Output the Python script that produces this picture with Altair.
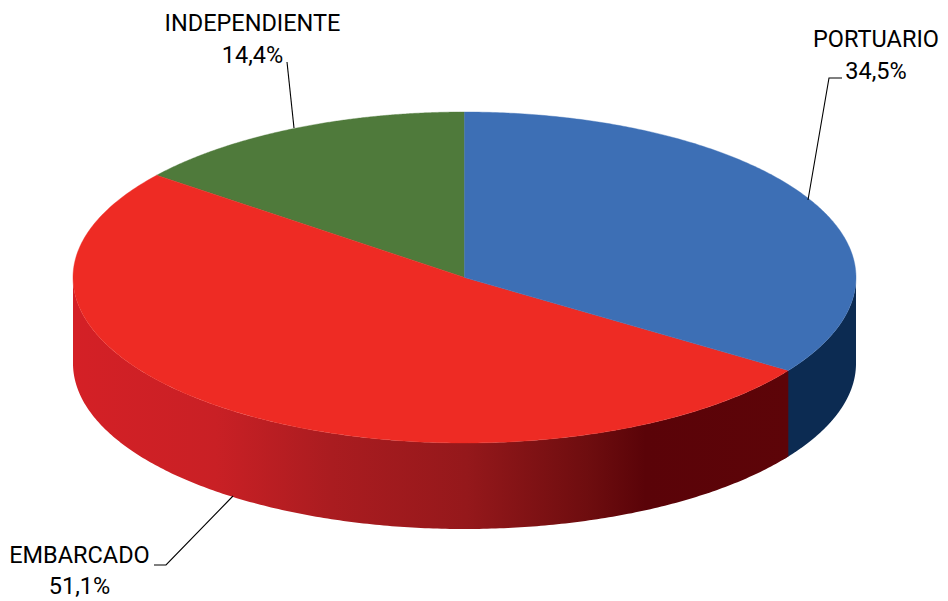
import numpy as np
import pandas as pd
import altair as alt

# Data
categories = ["PORTUARIO", "EMBARCADO", "INDEPENDIENTE"]
shares = [34.5, 51.1, 14.4]
share_labels = ["34,5%", "51,1%", "14,4%"]
top_colors = ["#3d6fb5", "#ee2b24", "#4f7a3b"]

# Label anchors and leader lines, in reference picture coordinates
label_x = [876, 79.5, 252.5]
name_y = [47, 563, 31]
value_y = [79, 594, 63]
leader_x = [[808, 829, 842], [233, 166, 154], [294, 287, 287]]
leader_y = [[200, 78, 78], [496, 565, 565], [128, 62, 62]]

# Pie geometry
CX, CY, RX, RY, DEPTH = 464.5, 277.5, 391.5, 165.5, 86

X = alt.X("x:Q", scale=alt.Scale(domain=[8, 940], nice=False, zero=False), axis=None)
Y = alt.Y("y:Q", scale=alt.Scale(domain=[600, 8], nice=False, zero=False), axis=None)


def rim(a0, a1, n=240):
    """Points on the top ellipse; angles run clockwise from 12 o'clock in share units."""
    t = np.linspace(a0, a1, n) / 100 * 2 * np.pi
    return CX + RX * np.sin(t), CY - RY * np.cos(t)


def sector(a0, a1, color):
    xs, ys = rim(a0, a1)
    xs = np.r_[CX, xs, CX]
    ys = np.r_[CY, ys, CY]
    df = pd.DataFrame({"x": xs, "y": ys, "i": np.arange(len(xs))})
    return alt.Chart(df).mark_line(fill=color, stroke=color, strokeWidth=0.4, clip=False).encode(
        x=X, y=Y, order=alt.Order("i:Q")
    )


def wall(a0, a1, color):
    xs, ys = rim(a0, a1)
    df = pd.DataFrame({"x": xs, "y": ys, "y2": ys + DEPTH}).sort_values("x")
    return alt.Chart(df).mark_area(color=color, line=False).encode(
        x=X, y=Y, y2="y2:Q"
    )


bounds = np.cumsum([0] + shares)

red_gradient = alt.Gradient(
    gradient="linear", x1=0, x2=1, y1=0, y2=0,
    stops=[
        alt.GradientStop(offset=0.0, color="#d42026"),
        alt.GradientStop(offset=0.2, color="#c92025"),
        alt.GradientStop(offset=0.36, color="#aa1c20"),
        alt.GradientStop(offset=0.55, color="#95181b"),
        alt.GradientStop(offset=0.72, color="#6e0d0f"),
        alt.GradientStop(offset=0.8, color="#5a0308"),
        alt.GradientStop(offset=1.0, color="#5d0408"),
    ],
)

layers = [
    wall(bounds[0] + 25, bounds[1] + 0.3, "#0c2b52"),
    wall(bounds[1], 75, red_gradient),
]
for i in [2, 1, 0]:
    layers.append(sector(bounds[i], bounds[i + 1], top_colors[i]))

for xs, ys in zip(leader_x, leader_y):
    df = pd.DataFrame({"x": xs, "y": ys, "i": range(len(xs))})
    layers.append(
        alt.Chart(df).mark_line(color="#000000", strokeWidth=1.1).encode(
            x=X, y=Y, order=alt.Order("i:Q")
        )
    )

labels = pd.DataFrame(
    {
        "x": label_x * 2,
        "y": name_y + value_y,
        "t": categories + share_labels,
    }
)
layers.append(
    alt.Chart(labels).mark_text(
        font="Roboto", fontSize=23.5, color="#000000",
        align="center", baseline="alphabetic",
    ).encode(x=X, y=Y, text="t:N")
)

chart = alt.layer(*layers).properties(
    width=932, height=592, padding=0,
    autosize=alt.AutoSizeParams(type="none"),
).configure_view(stroke=None)

chart.save("out.html", embed_options={"renderer": "svg", "actions": False})
